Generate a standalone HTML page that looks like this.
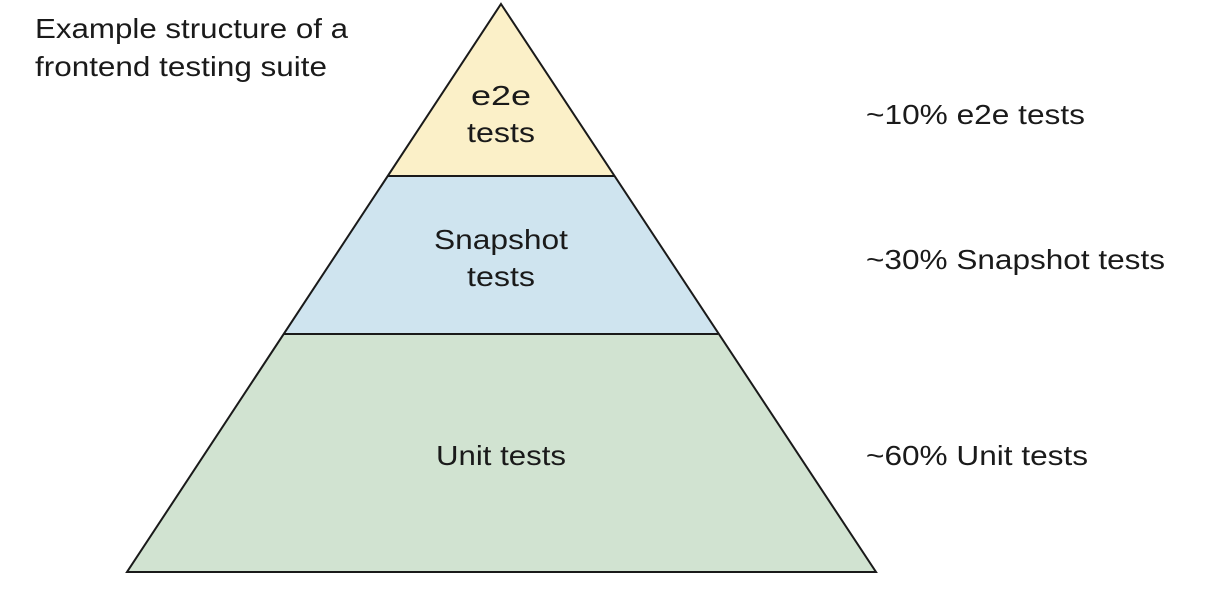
<!DOCTYPE html>
<html><head><meta charset="utf-8"><style>
html,body{margin:0;padding:0;background:#fff;width:1214px;height:604px;overflow:hidden}
svg text{font-family:"Liberation Sans",Arial,sans-serif;font-size:28px;fill:#1a1a1a}
</style></head><body>
<svg width="1214" height="604" viewBox="0 0 1214 604" xmlns="http://www.w3.org/2000/svg">
<polygon points="501,4 614,176 388,176" fill="#fbf0c8"/>
<polygon points="388,176 614,176 718,334 284,334" fill="#cfe4ef"/>
<polygon points="284,334 718,334 876,572 127,572" fill="#d1e3d1"/>
<polygon points="501,4 876,572 127,572" fill="none" stroke="#1a1a1a" stroke-width="2" stroke-linejoin="miter"/>
<line x1="388" y1="176" x2="614" y2="176" stroke="#1a1a1a" stroke-width="2"/>
<line x1="284" y1="334" x2="718" y2="334" stroke="#1a1a1a" stroke-width="2"/>
<text x="35" y="38" textLength="313" lengthAdjust="spacingAndGlyphs">Example structure of a</text>
<text x="35" y="76" textLength="292" lengthAdjust="spacingAndGlyphs">frontend testing suite</text>
<text x="471" y="105" textLength="60" lengthAdjust="spacingAndGlyphs">e2e</text>
<text x="467" y="142" textLength="68" lengthAdjust="spacingAndGlyphs">tests</text>
<text x="434" y="249" textLength="134" lengthAdjust="spacingAndGlyphs">Snapshot</text>
<text x="467" y="286" textLength="68" lengthAdjust="spacingAndGlyphs">tests</text>
<text x="436" y="465" textLength="130" lengthAdjust="spacingAndGlyphs">Unit tests</text>
<text x="866" y="124" textLength="219" lengthAdjust="spacingAndGlyphs">~10% e2e tests</text>
<text x="866" y="269" textLength="299" lengthAdjust="spacingAndGlyphs">~30% Snapshot tests</text>
<text x="866" y="465" textLength="222" lengthAdjust="spacingAndGlyphs">~60% Unit tests</text>
</svg>
</body></html>
